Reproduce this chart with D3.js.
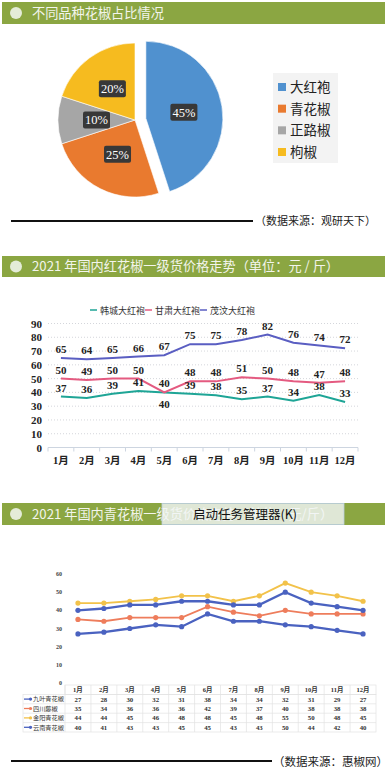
<!DOCTYPE html>
<html><head><meta charset="utf-8">
<script src="https://cdn.jsdelivr.net/npm/d3@7/dist/d3.min.js"></script>
<style>body{margin:0;background:#fff}svg{display:block}</style>
</head><body>
<script>
// ---------- data ----------
const pieCats = ["大红袍","青花椒","正路椒","枸椒"];
const pieVals = [45,25,10,20];
const pieColors = ["#5091cf","#e97a2f","#a6a6a6","#f6bb1f"];

const months = ["1月","2月","3月","4月","5月","6月","7月","8月","9月","10月","11月","12月"];

const redNames = ["韩城大红袍","甘肃大红袍","茂汶大红袍"];
const redHancheng = [37,36,39,41,40,39,38,35,37,34,38,33];
const redGansu   = [50,49,50,50,40,48,48,51,50,48,47,48];
const redMaowen  = [65,64,65,66,67,75,75,78,82,76,74,72];
const redColors = ["#1ea596","#e45a80","#5a5ec2"];
const redTicks = [0,10,20,30,40,50,60,70,80,90];

const greenNames = ["九叶青花椒","四川藤椒","金阳青花椒","云南青花椒"];
const greenJiuye  = [27,28,30,32,31,38,34,34,32,31,29,27];
const greenTengjiao = [35,34,36,36,36,42,39,37,40,38,38,38];
const greenJinyang = [44,44,45,46,48,48,45,48,55,50,48,45];
const greenYunnan = [40,41,43,43,45,45,43,43,50,44,42,40];
const greenColors = ["#4a62c0","#ee7d5c","#f2c24a","#4a62c0"];
const greenTicks = [0,10,20,30,40,50,60];

const serif = "'Liberation Serif','DejaVu Serif','Noto Sans CJK SC',serif";
const cjk = "'Noto Sans CJK SC',sans-serif";

const svg = d3.select("body").append("svg").attr("width",387).attr("height",782);

function header(y, h, title){
  svg.append("rect").attr("x",2).attr("y",y).attr("width",383).attr("height",h).attr("fill","#8ba642");
  svg.append("circle").attr("cx",16).attr("cy",y+h/2).attr("r",6).attr("fill","#e4ecd8");
  svg.append("text").attr("x",32).attr("y",y+h/2+4.8).attr("font-family",cjk).attr("font-size",13.2)
    .attr("fill","#f3f5ec").text(title);
}

// ---------- section 1 : pie ----------
header(2,22,"不同品种花椒占比情况");
const pieG = svg.append("g").attr("transform","translate(135,120)");
const pie = d3.pie().sort(null).value(d=>d)(pieVals);
const R = 77;
const arc = d3.arc().innerRadius(0).outerRadius(R);
pie.forEach((p,i)=>{
  const mid = (p.startAngle+p.endAngle)/2;
  const off = i===0 ? 11 : 0;
  const g = pieG.append("g").attr("transform",`translate(${off*Math.sin(mid)},${-off*Math.cos(mid)})`);
  g.append("path").attr("d",arc(p)).attr("fill",pieColors[i]).attr("stroke","#fff").attr("stroke-width",0.6);
  const c = arc.centroid(p);
  const lbl = pieVals[i]+"%";
  g.append("rect").attr("x",c[0]-13.5).attr("y",c[1]-8.5).attr("width",27).attr("height",17).attr("rx",2)
    .attr("fill","#383838");
  g.append("text").attr("x",c[0]).attr("y",c[1]+4.3).attr("text-anchor","middle")
    .attr("font-family",serif).attr("font-size",12.5).attr("fill","#fff").text(lbl);
});
// legend
svg.append("rect").attr("x",273).attr("y",73).attr("width",65).attr("height",90).attr("fill","#f3f3f3");
const legY = d3.scalePoint().domain(pieCats).range([87,152]);
pieCats.forEach((c,i)=>{
  svg.append("rect").attr("x",278).attr("y",legY(c)-4).attr("width",8).attr("height",8).attr("fill",pieColors[i]);
  svg.append("text").attr("x",290).attr("y",legY(c)+5).attr("font-family",cjk).attr("font-size",13.5)
    .attr("fill","#222").text(c);
});
svg.append("line").attr("x1",11).attr("x2",253).attr("y1",221).attr("y2",221).attr("stroke","#111").attr("stroke-width",2);
svg.append("text").attr("x",255).attr("y",225).attr("font-family",cjk).attr("font-size",11).attr("fill","#222")
  .text("（数据来源：观研天下）");

// ---------- section 2 : red pepper lines ----------
header(256,21,"2021 年国内红花椒一级货价格走势（单位：元 / 斤）");
const x2 = d3.scaleBand().domain(months).range([48,358]);
const y2 = d3.scaleLinear().domain([0,90]).range([447.5,323.5]);
// grid
svg.append("g").selectAll("line").data(redTicks.filter(t=>t>0)).join("line")
  .attr("x1",48).attr("x2",358).attr("y1",d=>y2(d)).attr("y2",d=>y2(d))
  .attr("stroke","#c9ccd2").attr("stroke-width",0.8).attr("stroke-dasharray","1,2");
// y labels
svg.append("g").selectAll("text").data(redTicks).join("text")
  .attr("x",42).attr("y",d=>y2(d)+4).attr("text-anchor","end")
  .attr("font-family",serif).attr("font-weight","bold").attr("font-size",11).attr("fill","#222").text(d=>d);
// x axis
const xAxis2 = svg.append("g").attr("transform",`translate(0,${y2(0)})`);
xAxis2.append("line").attr("x1",48).attr("x2",358).attr("stroke","#cdd5e0").attr("stroke-width",1.2);
xAxis2.selectAll("line.t").data(months.concat(["_end"])).join("line").attr("class","t")
  .attr("x1",(d,i)=>48+i*x2.bandwidth()).attr("x2",(d,i)=>48+i*x2.bandwidth())
  .attr("y1",0).attr("y2",4).attr("stroke","#cdd5e0");
svg.append("g").selectAll("text").data(months).join("text")
  .attr("x",d=>x2(d)+x2.bandwidth()/2).attr("y",464).attr("text-anchor","middle")
  .attr("font-family",serif).attr("font-weight","bold").attr("font-size",10.5).attr("fill","#222").text(d=>d);
// lines
const redData = [redHancheng,redGansu,redMaowen];
const line2 = d3.line().x((d,i)=>x2(months[i])+x2.bandwidth()/2).y(d=>y2(d));
redData.forEach((s,k)=>{
  svg.append("path").attr("d",line2(s)).attr("fill","none").attr("stroke",redColors[k]).attr("stroke-width",2);
});
redData.forEach((s,k)=>{
  svg.append("g").selectAll("text").data(s).join("text")
    .attr("x",(d,i)=>x2(months[i])+x2.bandwidth()/2)
    .attr("y",(d,i)=> (k===1 && i===4) ? y2(d)+16 : y2(d)-5)
    .attr("text-anchor","middle").attr("font-family",serif).attr("font-weight","bold")
    .attr("font-size",11).attr("fill","#222").text(d=>d);
});
// legend
const legX2 = [90,145,200];
redNames.forEach((n,i)=>{
  svg.append("line").attr("x1",legX2[i]).attr("x2",legX2[i]+7).attr("y1",310).attr("y2",310)
    .attr("stroke",redColors[i]).attr("stroke-width",1.5);
  svg.append("text").attr("x",legX2[i]+10).attr("y",313.5).attr("font-family",cjk).attr("font-size",9)
    .attr("fill","#333").text(n);
});

// ---------- section 3 : green pepper lines ----------
header(503,22,"2021 年国内青花椒一级货价格走势（单位：元/斤）");
// popup overlay
svg.append("rect").attr("x",162).attr("y",503.5).attr("width",182).attr("height",21)
  .attr("fill","#f2f5f6").attr("fill-opacity",0.82).attr("stroke","#b9cde0").attr("stroke-width",0.8);
svg.append("text").attr("x",193).attr("y",518.5).attr("font-family",cjk).attr("font-size",12.5)
  .attr("fill","#111").text("启动任务管理器(K)");

const x3 = d3.scaleBand().domain(months).range([65,376]);
const y3 = d3.scaleLinear().domain([0,60]).range([683,574]);
svg.append("g").selectAll("text").data(greenTicks).join("text")
  .attr("x",62).attr("y",d=>y3(d)+2).attr("text-anchor","end")
  .attr("font-family",serif).attr("font-weight","bold").attr("font-size",6).attr("fill","#444").text(d=>d);
const greenData = [greenJiuye,greenTengjiao,greenJinyang,greenYunnan];
const line3 = d3.line().x((d,i)=>x3(months[i])+x3.bandwidth()/2).y(d=>y3(d));
[2,1,3,0].forEach(k=>{
  const s = greenData[k];
  svg.append("path").attr("d",line3(s)).attr("fill","none").attr("stroke",greenColors[k])
    .attr("stroke-width",k===1||k===2?1.8:2.3);
  svg.append("g").selectAll("circle").data(s).join("circle")
    .attr("cx",(d,i)=>x3(months[i])+x3.bandwidth()/2).attr("cy",d=>y3(d)).attr("r",2.6)
    .attr("fill",greenColors[k]);
});
// data table
const tTop = 685, rowH = 9.4, tLeft = 23, tRight = 376;
const tb = svg.append("g");
tb.append("rect").attr("x",tLeft).attr("y",tTop+rowH).attr("width",tRight-tLeft).attr("height",rowH*4)
  .attr("fill","none").attr("stroke","#e3e3e3").attr("stroke-width",0.7);
tb.append("rect").attr("x",65).attr("y",tTop).attr("width",tRight-65).attr("height",rowH)
  .attr("fill","none").attr("stroke","#e3e3e3").attr("stroke-width",0.7);
for(let r=2;r<=4;r++) tb.append("line").attr("x1",tLeft).attr("x2",tRight)
  .attr("y1",tTop+rowH*r).attr("y2",tTop+rowH*r).attr("stroke","#e3e3e3").attr("stroke-width",0.7);
tb.selectAll("line.v").data(months).join("line").attr("class","v")
  .attr("x1",d=>x3(d)).attr("x2",d=>x3(d)).attr("y1",tTop).attr("y2",tTop+rowH*5)
  .attr("stroke","#e3e3e3").attr("stroke-width",0.7);
tb.selectAll("text.m").data(months).join("text").attr("class","m")
  .attr("x",d=>x3(d)+x3.bandwidth()/2).attr("y",tTop+rowH*0.5+2.4).attr("text-anchor","middle")
  .attr("font-family",serif).attr("font-weight","bold").attr("font-size",6.5).attr("fill","#333").text(d=>d);
greenData.forEach((s,k)=>{
  const cy = tTop+rowH*(k+1.5);
  tb.append("line").attr("x1",24).attr("x2",32).attr("y1",cy).attr("y2",cy).attr("stroke",greenColors[k]).attr("stroke-width",1.3);
  tb.append("circle").attr("cx",30.5).attr("cy",cy).attr("r",1.6).attr("fill",greenColors[k]);
  tb.append("text").attr("x",33).attr("y",cy+2.3).attr("font-family",cjk).attr("font-size",6.2)
    .attr("fill","#333").text(greenNames[k]);
  tb.selectAll(null).data(s).join("text")
    .attr("x",(d,i)=>x3(months[i])+x3.bandwidth()/2).attr("y",cy+2.4).attr("text-anchor","middle")
    .attr("font-family",serif).attr("font-weight","bold").attr("font-size",6.8).attr("fill","#333").text(d=>d);
});
svg.append("line").attr("x1",11).attr("x2",272).attr("y1",761).attr("y2",761).attr("stroke","#111").attr("stroke-width",2);
svg.append("text").attr("x",273).attr("y",765.5).attr("font-family",cjk).attr("font-size",11.5).attr("fill","#222")
  .text("（数据来源：惠椒网）");
</script>
</body></html>
